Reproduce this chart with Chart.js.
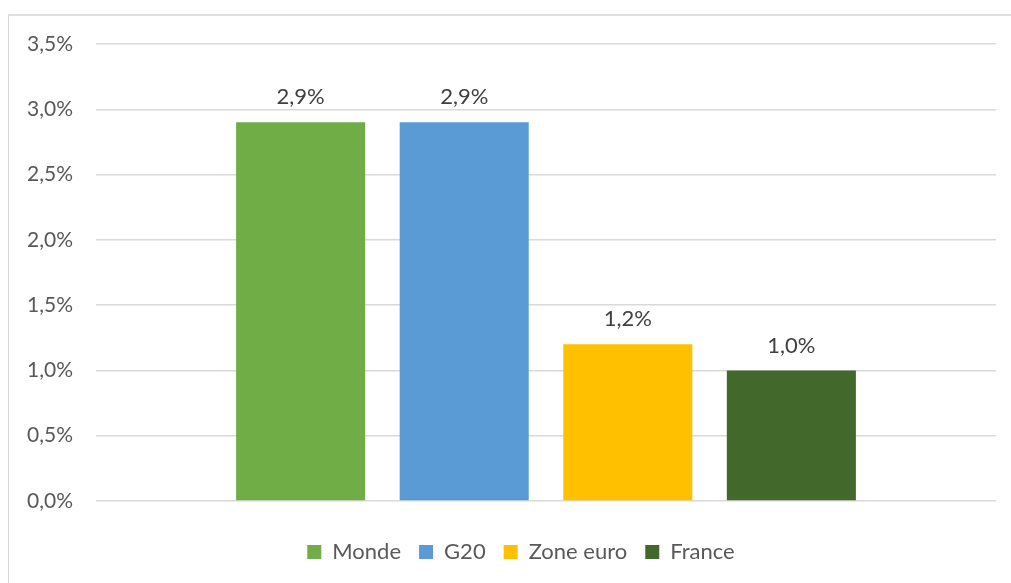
<!DOCTYPE html>
<html>
<head>
<meta charset="utf-8">
<script src="https://cdn.jsdelivr.net/npm/chart.js@4.4.0/dist/chart.umd.min.js"></script>
<style>
  html, body { margin: 0; padding: 0; background: #ffffff; }
  #wrap { position: relative; width: 1011px; height: 583px; overflow: hidden; }
  #frame { position: absolute; left: 8px; top: 14px; width: 1100px; height: 700px;
           border-left: 1px solid #d6d6d6; border-top: 2px solid #e0e0e0; box-sizing: border-box; }
  canvas { position: absolute; left: 0; top: 0; }
</style>
</head>
<body>
<div id="wrap">
  <div id="frame"></div>
  <canvas id="c" width="1011" height="583"></canvas>
</div>
<script>
const categories = [''];
const seriesNames = ['Monde', 'G20', 'Zone euro', 'France'];
const seriesValues = [2.9, 2.9, 1.2, 1.0];
const seriesColors = ['#70ad47', '#5b9bd5', '#ffc000', '#43682b'];
const yTicks = { min: 0, max: 3.5, step: 0.5 };

const fmt = v => v.toFixed(1).replace('.', ',') + '%';

const datasets = seriesNames.map((name, i) => ({
  label: name,
  data: [seriesValues[i]],
  backgroundColor: seriesColors[i],
  borderWidth: 0,
  categoryPercentage: 0.727,
  barPercentage: 0.789
}));

const dataLabels = {
  id: 'dataLabels',
  afterDatasetsDraw(chart) {
    const ctx = chart.ctx;
    ctx.save();
    ctx.font = '22px Lato';
    ctx.fillStyle = '#404040';
    ctx.textAlign = 'center';
    ctx.textBaseline = 'middle';
    chart.data.datasets.forEach((ds, i) => {
      const meta = chart.getDatasetMeta(i);
      meta.data.forEach((el, j) => {
        ctx.fillText(fmt(ds.data[j]), el.x, el.y - 25);
      });
    });
    ctx.restore();
  }
};

const legendShift = {
  id: 'legendShift',
  afterLayout(chart) {
    if (chart.legend) { chart.legend.left = 46; }
  }
};

new Chart(document.getElementById('c'), {
  type: 'bar',
  data: { labels: categories, datasets },
  options: {
    responsive: false,
    animation: false,
    layout: { padding: { top: 44, right: 15, left: 0, bottom: 10 } },
    scales: {
      x: {
        display: true,
        grid: { display: false },
        border: { display: false },
        ticks: { display: false },
        afterFit(scale) { scale.height = 22; }
      },
      y: {
        min: yTicks.min, max: yTicks.max,
        afterFit(scale) { scale.width = 96; },
        border: { display: false },
        grid: { color: '#d9d9d9', lineWidth: 1.5, drawTicks: false },
        ticks: {
          stepSize: yTicks.step,
          padding: 23,
          color: '#595959',
          font: { family: 'Lato', size: 21 },
          callback: v => fmt(v)
        }
      }
    },
    plugins: {
      legend: {
        position: 'bottom',
        labels: {
          boxWidth: 14, boxHeight: 14, padding: 18,
          color: '#595959',
          font: { family: 'Lato', size: 22 }
        }
      },
      tooltip: { enabled: false }
    }
  },
  plugins: [dataLabels, legendShift]
});
</script>
</body>
</html>
